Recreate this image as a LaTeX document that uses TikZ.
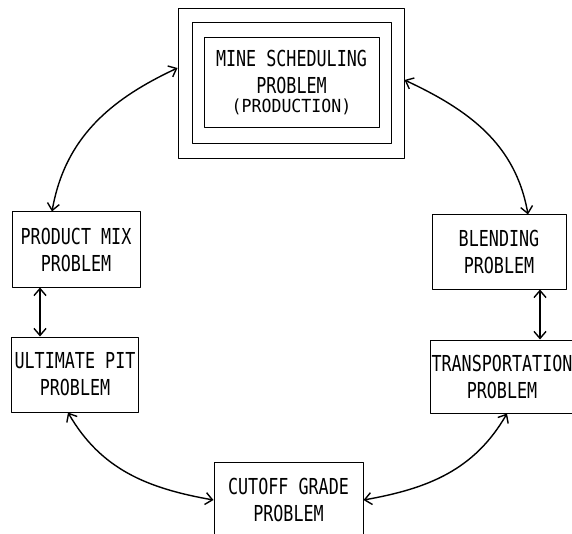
\documentclass[tikz,border=0pt]{standalone}
\usepackage{fontspec}
\usetikzlibrary{arrows.meta}
\newfontfamily\plotfont[FakeStretch=0.76]{DejaVu Sans Mono}
\newfontfamily\plotsmall[FakeStretch=0.92]{DejaVu Sans Mono}
\tikzset{
  probbox/.style={draw,line width=1pt,align=center,inner sep=0pt,
    font=\plotfont\fontsize{22}{27}\selectfont},
  link/.style={line width=1.4pt,<->},
}
\begin{document}
\begin{tikzpicture}[x=1pt,y=1pt,line cap=round,line join=round,>={Straight Barb[length=7pt,width=12pt]}]
  \useasboundingbox (0,0) rectangle (572,-534);
  \node[probbox,minimum width=226,minimum height=150] (mineOut) at (291,-84) {};
  \node[probbox,minimum width=199,minimum height=121] (mineMid) at (291.5,-83.5) {};
  \node[probbox,minimum width=175,minimum height=90] (mine) at (291.5,-83)
    {MINE SCHEDULING\\PROBLEM\\[-8pt]{\plotsmall\fontsize{18}{20}\selectfont (PRODUCTION)}};
  \node[probbox,minimum width=128,minimum height=75] (pmix) at (76,-249.5) {PRODUCT MIX\\PROBLEM};
  \node[probbox,minimum width=127,minimum height=75] (upit) at (75,-374.5) {ULTIMATE PIT\\PROBLEM};
  \node[probbox,minimum width=134,minimum height=74] (blend) at (499,-252) {BLENDING\\PROBLEM};
  \node[probbox,minimum width=144,minimum height=73] (trans) at (502,-376.5) {TRANSPORTATION\\PROBLEM};
  \node[probbox,minimum width=149,minimum height=76] (cutoff) at (288.5,-500) {CUTOFF GRADE\\PROBLEM};
  \draw[link] ([yshift=16pt]mineOut.west) to[out=205,in=80] ([xshift=-24pt]pmix.north);
  \draw[link] ([yshift=4pt]mineOut.east) to[out=-25,in=100] ([xshift=29pt]blend.north);
  \draw[link] ([xshift=-36pt]pmix.south) -- ([xshift=-35pt]upit.north);
  \draw[link] ([xshift=41pt]blend.south) -- ([xshift=38pt]trans.north);
  \draw[link] ([xshift=-7pt]upit.south) to[out=-60,in=170] (cutoff.west);
  \draw[link] ([xshift=5pt]trans.south) to[out=-120,in=10] (cutoff.east);
\end{tikzpicture}
\end{document}
